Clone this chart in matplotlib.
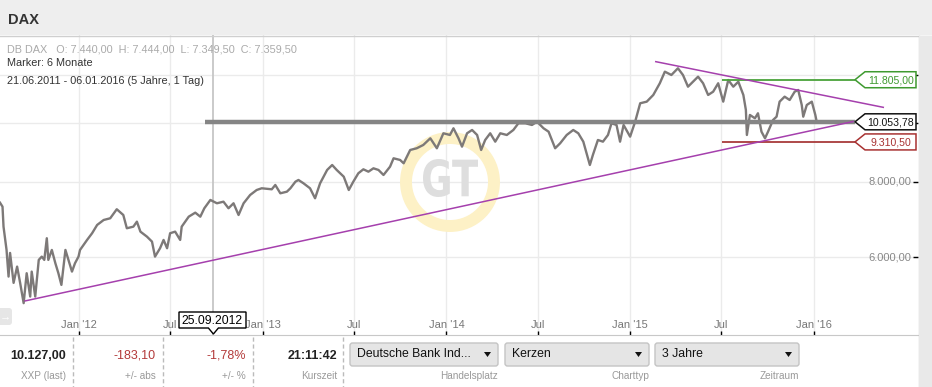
import pandas as pd
import matplotlib
matplotlib.use("Agg")
import matplotlib.pyplot as plt
from matplotlib.patches import Rectangle, Polygon, FancyBboxPatch, Circle, PathPatch
from matplotlib.textpath import TextPath
from matplotlib.font_manager import FontProperties
from matplotlib.transforms import Affine2D, blended_transform_factory
from matplotlib.ticker import FixedLocator, NullLocator

plt.rcParams['font.family'] = ['Liberation Sans', 'DejaVu Sans']

# DAX closes
dates = [
    "2011-07-29", "2011-08-03", "2011-08-05", "2011-08-11", "2011-08-15", "2011-08-18",
    "2011-08-25", "2011-09-01", "2011-09-07", "2011-09-14", "2011-09-20", "2011-09-27",
    "2011-09-30", "2011-10-07", "2011-10-14", "2011-10-20", "2011-10-25", "2011-10-30",
    "2011-11-02", "2011-11-09", "2011-11-16", "2011-11-22", "2011-11-28", "2011-12-06",
    "2011-12-12", "2011-12-19", "2011-12-25", "2012-01-01", "2012-01-04", "2012-01-18",
    "2012-01-28", "2012-02-07", "2012-02-20", "2012-03-04", "2012-03-17", "2012-03-30",
    "2012-04-06", "2012-04-19", "2012-04-26", "2012-05-03", "2012-05-16", "2012-05-26",
    "2012-06-01", "2012-06-11", "2012-06-18", "2012-06-25", "2012-07-01", "2012-07-11",
    "2012-07-21", "2012-07-24", "2012-07-31", "2012-08-07", "2012-08-20", "2012-08-30",
    "2012-09-07", "2012-09-19", "2012-10-02", "2012-10-15", "2012-10-25", "2012-11-04",
    "2012-11-14", "2012-11-24", "2012-12-07", "2012-12-20", "2012-12-30", "2013-01-19",
    "2013-01-26", "2013-02-05", "2013-02-18", "2013-02-25", "2013-03-07", "2013-03-13",
    "2013-03-23", "2013-04-05", "2013-04-15", "2013-04-25", "2013-05-09", "2013-05-19",
    "2013-05-28", "2013-06-11", "2013-06-21", "2013-06-30", "2013-07-10", "2013-07-20",
    "2013-07-30", "2013-08-09", "2013-08-19", "2013-08-29", "2013-09-11", "2013-09-18",
    "2013-10-01", "2013-10-08", "2013-10-21", "2013-11-03", "2013-11-16", "2013-11-30",
    "2013-12-13", "2013-12-26", "2014-01-08", "2014-01-15", "2014-01-25", "2014-02-01",
    "2014-02-11", "2014-02-21", "2014-03-03", "2014-03-11", "2014-03-19", "2014-03-29",
    "2014-04-08", "2014-04-18", "2014-05-01", "2014-05-14", "2014-05-24", "2014-06-07",
    "2014-06-20", "2014-06-30", "2014-07-13", "2014-07-23", "2014-08-05", "2014-08-15",
    "2014-08-28", "2014-09-10", "2014-09-20", "2014-09-30", "2014-10-13", "2014-10-19",
    "2014-10-29", "2014-11-08", "2014-11-18", "2014-11-25", "2014-12-05", "2014-12-12",
    "2014-12-19", "2015-01-01", "2015-01-11", "2015-01-21", "2015-02-03", "2015-02-16",
    "2015-03-01", "2015-03-11", "2015-03-24", "2015-04-06", "2015-04-16", "2015-04-26",
    "2015-05-06", "2015-05-16", "2015-05-26", "2015-06-05", "2015-06-15", "2015-06-25",
    "2015-07-05", "2015-07-15", "2015-07-25", "2015-08-04", "2015-08-14", "2015-08-19",
    "2015-08-21", "2015-08-27", "2015-09-06", "2015-09-12", "2015-09-19", "2015-09-26",
    "2015-10-02", "2015-10-12", "2015-10-19", "2015-10-25", "2015-11-04", "2015-11-14",
    "2015-11-24", "2015-12-01", "2015-12-08", "2015-12-11", "2015-12-18", "2015-12-28",
    "2016-01-04", "2016-01-06",
]
closes = [
    7384, 7272, 6738, 6165, 5569, 6095,
    5437, 5785, 5437, 5032, 5641, 5160,
    5676, 5160, 5935, 6010, 5935, 6447,
    5935, 6165, 5860, 5641, 5395, 6165,
    5935, 5676, 5860, 6010, 6165, 6405,
    6571, 6782, 6912, 6957, 7201, 7045,
    6697, 6738, 6868, 6611, 6486, 6364,
    6010, 6205, 6405, 6205, 6571, 6611,
    6405, 6738, 6868, 7000, 7108, 7000,
    7228, 7461, 7367, 7412, 7228, 7367,
    7045, 7367, 7604, 7750, 7801, 7771,
    7900, 7653, 7700, 7801, 8000, 8052,
    7951, 7801, 7509, 7951, 8366, 8526,
    8366, 8154, 7750, 8000, 8261, 8387,
    8311, 8419, 8366, 8207, 8472, 8747,
    8691, 8582, 9029, 9088, 9203, 9441,
    9088, 9623, 9561, 9808, 9441, 9144,
    9623, 9745, 9561, 9029, 9380, 9623,
    9320, 9623, 9561, 9745, 9997, 9997,
    9933, 10059, 9808, 9682, 9088, 9263,
    9561, 9745, 9623, 9320, 8526, 8858,
    9380, 9320, 9561, 9997, 9933, 9320,
    9933, 9500, 10059, 10791, 10857, 11138,
    11647, 12174, 12021, 12333, 12021, 11496,
    11718, 11944, 11647, 11138, 11279, 11647,
    10857, 11794, 11496, 11718, 11138, 10518,
    9561, 10320, 10190, 10387, 9682, 9441,
    9682, 10124, 10253, 10857, 11066, 10927,
    11279, 11352, 10720, 10253, 10720, 10857,
    10320, 10124,
]

current_level = 10053.78
resistance = 11805.00
support = 9310.50
current_start = "2012-09-09"
level_start = "2015-07-02"
level_end = "2016-03-23"

lower_trend_dates = ["2011-09-17", "2016-03-19"]
lower_trend_vals = [5075, 10064]
upper_trend_dates = ["2015-02-21", "2016-05-18"]
upper_trend_vals = [12648, 10625]

cross_date = "2012-09-25"

tick_dates = ["2012-01-01", "2012-07-01", "2013-01-01", "2013-07-01", "2014-01-01",
              "2014-07-01", "2015-01-01", "2015-07-01", "2016-01-01"]
tick_labels = ["Jan '12", "Jul", "Jan '13", "Jul", "Jan '14", "Jul", "Jan '15", "Jul", "Jan '16"]
ytick_vals = [6000, 8000, 10000, 12000]
ytick_shown = [6000, 8000]

W, H = 932, 387
fig = plt.figure(figsize=(W / 100, H / 100), dpi=100)
fig.patch.set_facecolor("white")
# pixel coordinates, origin top-left
tp = Affine2D().scale(1 / W, -1 / H).translate(0, 1) + fig.transFigure

ax = fig.add_axes([0, (H - 335) / H, 918 / W, 300 / H])
ax.set_yscale("log")
ax.set_ylim(4456, 14003)
ax.set_xlim(pd.Timestamp("2011-07-29"), pd.Timestamp("2016-07-26"))

ax.yaxis.set_major_locator(FixedLocator(ytick_vals))
ax.yaxis.set_minor_locator(NullLocator())
ax.set_xticks(pd.to_datetime(tick_dates))
ax.set_xticklabels(tick_labels)
ax.tick_params(axis="x", direction="in", length=3, width=1, color="black",
               labelcolor="#777777", labelsize=8, pad=-11)
ax.tick_params(axis="y", which="both", left=False, right=True, labelleft=False,
               direction="in", length=3.5, width=1, color="black")
ax.grid(True, color="#ebebeb", lw=1)
ax.set_axisbelow(True)
for s in ["top", "left", "right"]:
    ax.spines[s].set_visible(False)
ax.spines["bottom"].set_color("#c8c8c8")

yt = blended_transform_factory(ax.transAxes, ax.transData)
for v in ytick_shown:
    ax.text(911 / 918, v, f"{v:,.2f}".replace(",", "X").replace(".", ",").replace("X", "."),
            transform=yt, ha="right", va="center", fontsize=8, color="#888888")

# crosshair
ax.axvline(pd.Timestamp(cross_date), color="#c6c6c6", lw=1.3, zorder=1)

# watermark
ax.add_patch(Circle((450, 182), 44, transform=tp, fill=False, ec="#fdf1c6", lw=8.6, zorder=0.6))
gt = TextPath((0, 0), "GT", size=10, prop=FontProperties(family="DejaVu Sans", weight="bold"))
bb = gt.get_extents()
gt_tr = (Affine2D().translate(-bb.x0, -bb.y0).scale(55 / bb.width, -38 / bb.height)
         .translate(423, 197) + tp)
ax.add_patch(PathPatch(gt, transform=gt_tr, fc="#dedede", ec="none", zorder=0.7))

# price
ax.plot(pd.to_datetime(dates), closes, color="#7d7978", lw=1.7, zorder=3)

# level lines
ax.hlines(current_level, pd.Timestamp(current_start), pd.Timestamp(level_end),
          color="#858585", lw=3.2, zorder=4)
ax.hlines(resistance, pd.Timestamp(level_start), pd.Timestamp(level_end),
          color="#4aa23a", lw=1.3, zorder=4)
ax.hlines(support, pd.Timestamp(level_start), pd.Timestamp(level_end),
          color="#a83a3a", lw=1.3, zorder=4)

# trend lines
ax.plot(pd.to_datetime(lower_trend_dates), lower_trend_vals, color="#a540ad", lw=1.1, zorder=5)
ax.plot(pd.to_datetime(upper_trend_dates), upper_trend_vals, color="#a540ad", lw=1.1, zorder=5)


def tag(value, text, color):
    yp = H - ax.transData.transform((ax.get_xlim()[0], value))[1]
    pts = [(855, yp), (865, yp - 8), (916, yp - 8), (916, yp + 8), (865, yp + 8)]
    fig.patches.append(Polygon(pts, closed=True, transform=tp, fc="white", ec=color,
                               lw=1.1, zorder=10))
    fig.text(891, yp + 0.5, text, transform=tp, ha="center", va="center", fontsize=7.6,
             color=color, zorder=11)


tag(resistance, "11.805,00", "#3f9a30")
tag(current_level, "10.053,78", "#111111")
tag(support, "9.310,50", "#a83232")

# crosshair date box
xc = ax.transData.transform((ax.convert_xunits(pd.Timestamp(cross_date)), 6000))[0]
fig.patches.append(Polygon([(179, 312), (246, 312), (246, 328), (xc + 5, 328), (xc, 334),
                            (xc - 5, 328), (179, 328)], closed=True, transform=tp,
                           fc="white", ec="black", lw=1, zorder=10))
fig.text(212.5, 320.5, "25.09.2012", transform=tp, ha="center", va="center",
         fontsize=8.8, color="black", zorder=11)

# header
fig.patches.append(Rectangle((0, 0), W, 35, transform=tp, fc="#eeeeee", ec="none", zorder=0))
fig.lines.append(plt.Line2D([0, W], [35.5, 35.5], transform=tp, color="#cfcfcf", lw=1))
fig.text(8, 20, "DAX", transform=tp, ha="left", va="center", fontsize=10.5,
         fontweight="bold", color="#333333")

# right strip
fig.patches.append(Rectangle((919, 36), 13, H, transform=tp, fc="#e9e9e9", ec="none", zorder=9))
fig.lines.append(plt.Line2D([919, 919], [36, H], transform=tp, color="#cccccc", lw=1, zorder=9))

# info text in chart
fig.text(7, 49, "DB DAX   O: 7.440,00  H: 7.444,00  L: 7.349,50  C: 7.359,50",
         transform=tp, ha="left", va="center", fontsize=7.8, color="#aaaaaa")
fig.text(7, 63, "Marker: 6 Monate", transform=tp, ha="left", va="center",
         fontsize=7.8, color="#333333")
fig.text(7, 80.5, "21.06.2011 - 06.01.2016 (5 Jahre, 1 Tag)", transform=tp, ha="left",
         va="center", fontsize=7.8, color="#333333")

# small scroll button
fig.patches.append(FancyBboxPatch((-6, 308), 18, 17, boxstyle="round,pad=0,rounding_size=3",
                                  transform=tp, fc="#e6e6e6", ec="none", zorder=6))
fig.text(5, 316.5, "\u2192", transform=tp, ha="center", va="center", fontsize=8,
         color="white", zorder=7)

# bottom info panel
for xs in [73, 163, 253, 343]:
    fig.lines.append(plt.Line2D([xs, xs], [337, H], transform=tp, color="#bbbbbb",
                                lw=1, ls=(0, (3, 2))))
values = ["10.127,00", "-183,10", "-1,78%", "21:11:42"]
value_colors = ["#222222", "#b33a3a", "#b33a3a", "#222222"]
value_weights = ["bold", "normal", "normal", "bold"]
captions = ["XXP (last)", "+/- abs", "+/- %", "Kurszeit"]
for i, xr in enumerate([66, 156, 246, 337]):
    fig.text(xr, 356, values[i], transform=tp, ha="right", va="center", fontsize=9,
             fontweight=value_weights[i], color=value_colors[i])
    fig.text(xr, 376, captions[i], transform=tp, ha="right", va="center", fontsize=7.2,
             color="#999999")

buttons = [("Deutsche Bank Ind...", 350, 498, "Handelsplatz"),
           ("Kerzen", 505, 649, "Charttyp"),
           ("3 Jahre", 655, 799, "Zeitraum")]
for label, x0, x1, cap in buttons:
    fig.patches.append(FancyBboxPatch((x0, 343), x1 - x0, 23,
                                      boxstyle="round,pad=0,rounding_size=2.5",
                                      transform=tp, fc="#e5e5e5", ec="#c4c4c4", lw=1))
    fig.text(x0 + 7, 354, label, transform=tp, ha="left", va="center", fontsize=8.8,
             color="#111111")
    fig.patches.append(Polygon([(x1 - 14, 352), (x1 - 7, 352), (x1 - 10.5, 357)],
                               closed=True, transform=tp, fc="#111111", ec="none"))
    fig.text(x1, 376, cap, transform=tp, ha="right", va="center", fontsize=7.2,
             color="#999999")

fig.savefig("out.png", dpi=100)
